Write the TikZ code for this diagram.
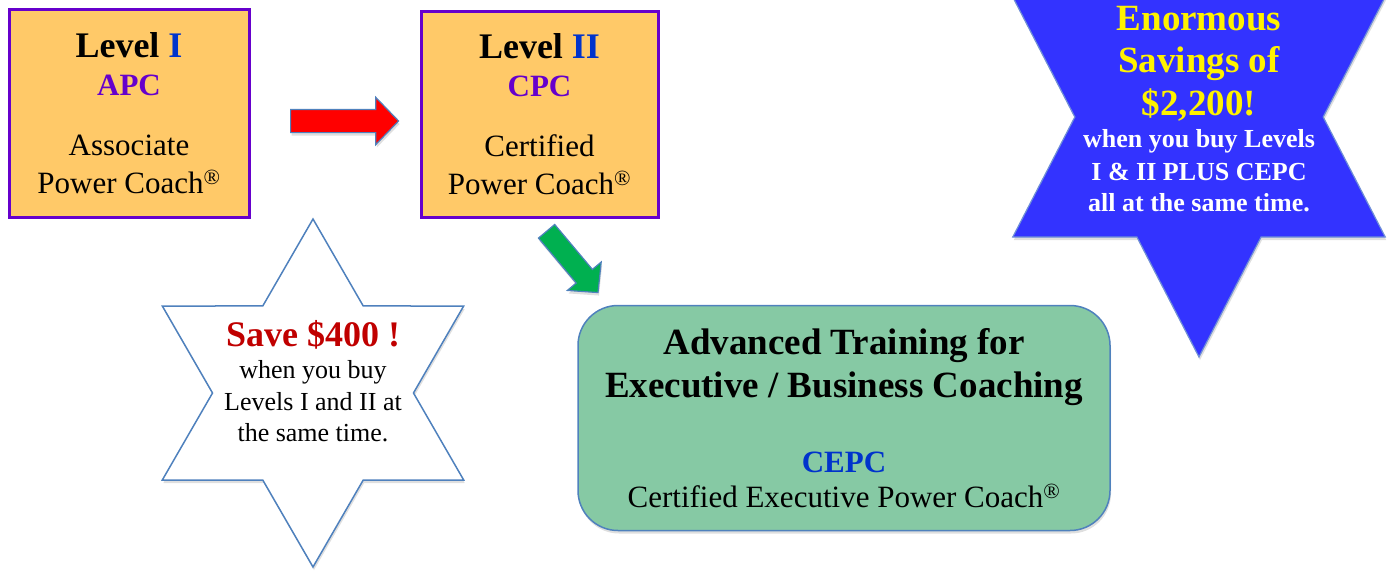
\documentclass[tikz,border=0pt]{standalone}
\usepackage{fontspec}
\setmainfont{Liberation Serif}
\usetikzlibrary{shapes.geometric,shapes.arrows,shadows,positioning}

\definecolor{boxorange}{HTML}{FFC968}
\definecolor{boxpurple}{HTML}{6600CC}
\definecolor{levelblue}{HTML}{0033CC}
\definecolor{edgeblue}{HTML}{4F81BD}
\definecolor{cepcgreen}{HTML}{86C9A4}
\definecolor{starblue}{HTML}{3333FF}
\definecolor{starrim}{HTML}{6F8FD8}
\definecolor{savered}{HTML}{C00000}
\definecolor{arrowgreen}{HTML}{00B050}

\begin{document}
\begin{tikzpicture}
    [x=1pt, y=-1pt,
    softshadow/.style={drop shadow={opacity=0.25, shadow xshift=1pt, shadow yshift=-3pt}},
    levelbox/.style={draw=boxpurple, line width=3pt, fill=boxorange,
        minimum width=240pt, minimum height=208pt, align=center,
        font=\fontsize{31}{37.5}\selectfont},
    blockarrow/.style={single arrow, draw=edgeblue, line width=1.2pt, inner xsep=0pt,
        single arrow tip angle=92, softshadow},
    hexstar/.style={star, star points=6, star point ratio=1.732, inner sep=0pt, softshadow}
    ]
    \useasboundingbox (0,0) rectangle (1389,571);

    \node (level1) [levelbox] at (129,113)
        {{\fontsize{36}{38}\selectfont\bfseries Level \textcolor{levelblue}{I}}\\[0.5pt]
         {\bfseries\color{boxpurple}APC}\\[23pt]
         Associate\\
         Power Coach\textsuperscript{\textregistered}};
    \node (level2) [levelbox, minimum width=237pt, minimum height=206pt,
        right=169pt of level1, yshift=-1pt]
        {{\fontsize{36}{38}\selectfont\bfseries Level \textcolor{levelblue}{II}}\\[0.5pt]
         {\bfseries\color{boxpurple}CPC}\\[23pt]
         Certified\\
         Power Coach\textsuperscript{\textregistered}};

    \node (redarrow) [blockarrow, fill=red, inner ysep=11pt, minimum height=108pt,
        minimum width=46pt, single arrow head extend=12pt] at (339,121) {};
    \node (greenarrow) [blockarrow, fill=arrowgreen, inner ysep=10pt, minimum height=80pt,
        minimum width=43pt, single arrow head extend=11.5pt, rotate=-50] at (569,258) {};

    \node (cepc) [draw=edgeblue, line width=1.5pt, fill=cepcgreen, rounded corners=40pt,
        minimum width=532pt, minimum height=225pt, align=center, softshadow,
        font=\fontsize{31}{35}\selectfont] at (844,418)
        {{\fontsize{37}{43}\selectfont\bfseries Advanced Training for}\\[8pt]
         {\fontsize{37}{43}\selectfont\bfseries Executive / Business Coaching}\\[40pt]
         {\bfseries\color{levelblue}CEPC}\\
         Certified Executive Power Coach\textsuperscript{\textregistered}};

    \node (savestar) [hexstar, fill=white, draw=edgeblue, line width=1.5pt,
        minimum size=348pt] at (313,393) {};
    \node (savetext) [align=center, font=\fontsize{26}{31.5}\selectfont, yshift=12pt]
        at (savestar.center)
        {{\fontsize{36}{36}\selectfont\bfseries\color{savered}Save \$400 !}\\[1pt]
         when you buy\\
         Levels I and II at\\
         the same time.};

    \node (bigstar) [hexstar, fill=starblue, draw=starrim, line width=1.2pt,
        minimum size=480pt, xscale=0.896] at (1199,117) {};
    \node (bigtext) [align=center, font=\fontsize{37}{42.5}\selectfont\bfseries, yshift=8pt]
        at (bigstar.center)
        {\color{yellow}Enormous\\
         \color{yellow}Savings of\\
         \color{yellow}\$2,200!\\[-10pt]
         {\fontsize{26}{31}\selectfont\color{white}when you buy Levels}\\[-10pt]
         {\fontsize{26}{31}\selectfont\color{white}I \& II PLUS CEPC}\\[-11pt]
         {\fontsize{26}{31}\selectfont\color{white}all at the same time.}};
\end{tikzpicture}
\end{document}
